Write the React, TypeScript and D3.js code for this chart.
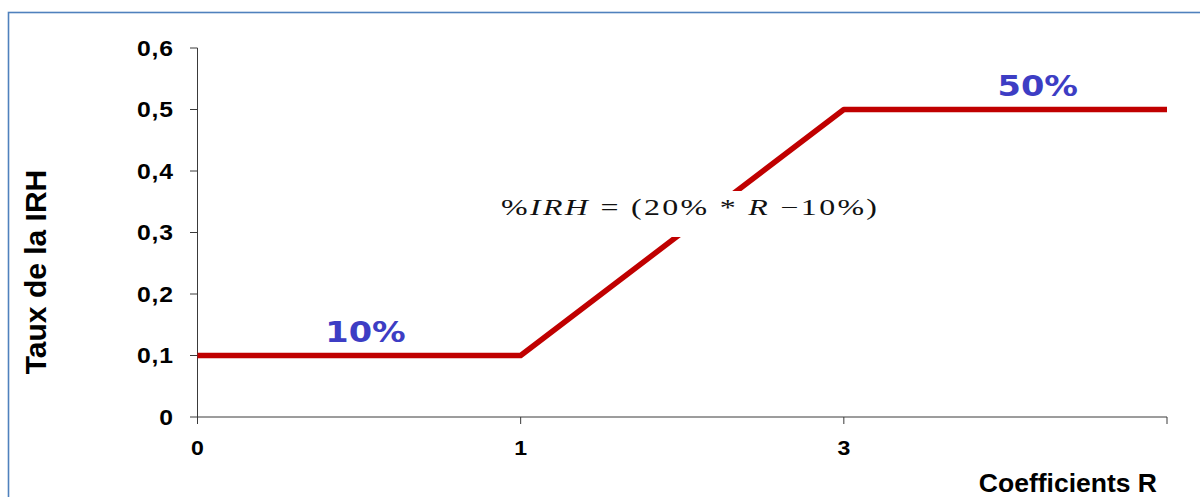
import React from "react";
import * as d3 from "d3";

const categories = ["0", "1", "3", "5"];
const categoryLabels = ["0", "1", "3", ""];
const values = [0.1, 0.1, 0.5, 0.5];
const yTicks = [0, 0.1, 0.2, 0.3, 0.4, 0.5, 0.6];
const yTickLabels = ["0", "0,1", "0,2", "0,3", "0,4", "0,5", "0,6"];
const annotations = [
  { cat: 0.52, value: 0.1, text: "10%" },
  { cat: 2.6, value: 0.5, text: "50%" },
];
const xTitle = "Coefficients R";
const yTitle = "Taux de la IRH";

const W = 1200;
const H = 497;

export default function App() {
  const x = d3.scalePoint<string>().domain(categories).range([197.5, 1167]);
  const y = d3.scaleLinear().domain([0, 0.6]).range([417, 48]);
  const xi = d3
    .scaleLinear()
    .domain([0, categories.length - 1])
    .range([x(categories[0])!, x(categories[categories.length - 1])!]);

  const line = d3
    .line<number>()
    .x((_, i) => x(categories[i])!)
    .y((d) => y(d));

  const axisColor = "#3a3a3a";
  const sans = "'Liberation Sans', Arial, sans-serif";
  const serif = "'Liberation Serif', 'Times New Roman', serif";
  const eqScale = 1.42;

  return (
    <svg
      width={W}
      height={H}
      style={{ position: "absolute", left: 0, top: 0, background: "#fff" }}
    >
      <rect x={8.5} y={12.5} width={1300} height={600} fill="#fff" stroke="#4f81bd" strokeWidth={1.6} />

      {/* y axis */}
      <line x1={x(categories[0])!} x2={x(categories[0])!} y1={y(0.6)} y2={y(0)} stroke={axisColor} strokeWidth={1} />
      {yTicks.map((t, i) => (
        <g key={"yt" + i}>
          <line x1={190} x2={x(categories[0])!} y1={y(t)} y2={y(t)} stroke={axisColor} strokeWidth={1} />
          <text
            transform={`translate(174,${y(t) + 7.5}) scale(1.15,1)`}
            textAnchor="end"
            fontFamily={sans}
            fontWeight="bold"
            fontSize={21.5}
            letterSpacing={0.8}
            fill="#000"
          >
            {yTickLabels[i]}
          </text>
        </g>
      ))}

      {/* x axis */}
      <line x1={x(categories[0])!} x2={x(categories[categories.length - 1])!} y1={y(0)} y2={y(0)} stroke={axisColor} strokeWidth={1} />
      {categories.map((c, i) => (
        <g key={"xt" + i}>
          <line x1={x(c)!} x2={x(c)!} y1={y(0)} y2={y(0) + 7} stroke={axisColor} strokeWidth={1} />
          <text
            transform={`translate(${x(c)!},454.5) scale(1.1,1)`}
            textAnchor="middle"
            fontFamily={sans}
            fontWeight="bold"
            fontSize={21}
            fill="#000"
          >
            {categoryLabels[i]}
          </text>
        </g>
      ))}

      {/* series */}
      <path d={line(values) || ""} fill="none" stroke="#c00000" strokeWidth={5.5} strokeLinejoin="round" />

      {/* equation box */}
      <rect x={494} y={191} width={392} height={46} fill="#fff" />
      <text
        transform={`translate(501,214.5) scale(${eqScale},1)`}
        fontFamily={serif}
        fontSize={22.5}
        fill="#111"
        textLength={376 / eqScale}
        lengthAdjust="spacing"
      >
        <tspan>%</tspan>
        <tspan fontStyle="italic">IRH</tspan>
        <tspan> = (20% * </tspan>
        <tspan fontStyle="italic">R</tspan>
        <tspan> −10%)</tspan>
      </text>

      {/* annotations */}
      {annotations.map((a, i) => (
        <text
          key={"an" + i}
          transform={`translate(${xi(a.cat)},${y(a.value) - 13.5}) scale(1.2,1)`}
          textAnchor="middle"
          fontFamily="'DejaVu Sans', Verdana, sans-serif"
          fontWeight="bold"
          fontSize={28}
          fill="#3d3dc4"
        >
          {a.text}
        </text>
      ))}

      {/* titles */}
      <text x={1157} y={492} textAnchor="end" fontFamily={sans} fontWeight="bold" fontSize={26.5} fill="#000">
        {xTitle}
      </text>
      <text
        transform={`translate(46,272) rotate(-90)`}
        textAnchor="middle"
        fontFamily={sans}
        fontWeight="bold"
        fontSize={30}
        fill="#000"
      >
        {yTitle}
      </text>
    </svg>
  );
}
